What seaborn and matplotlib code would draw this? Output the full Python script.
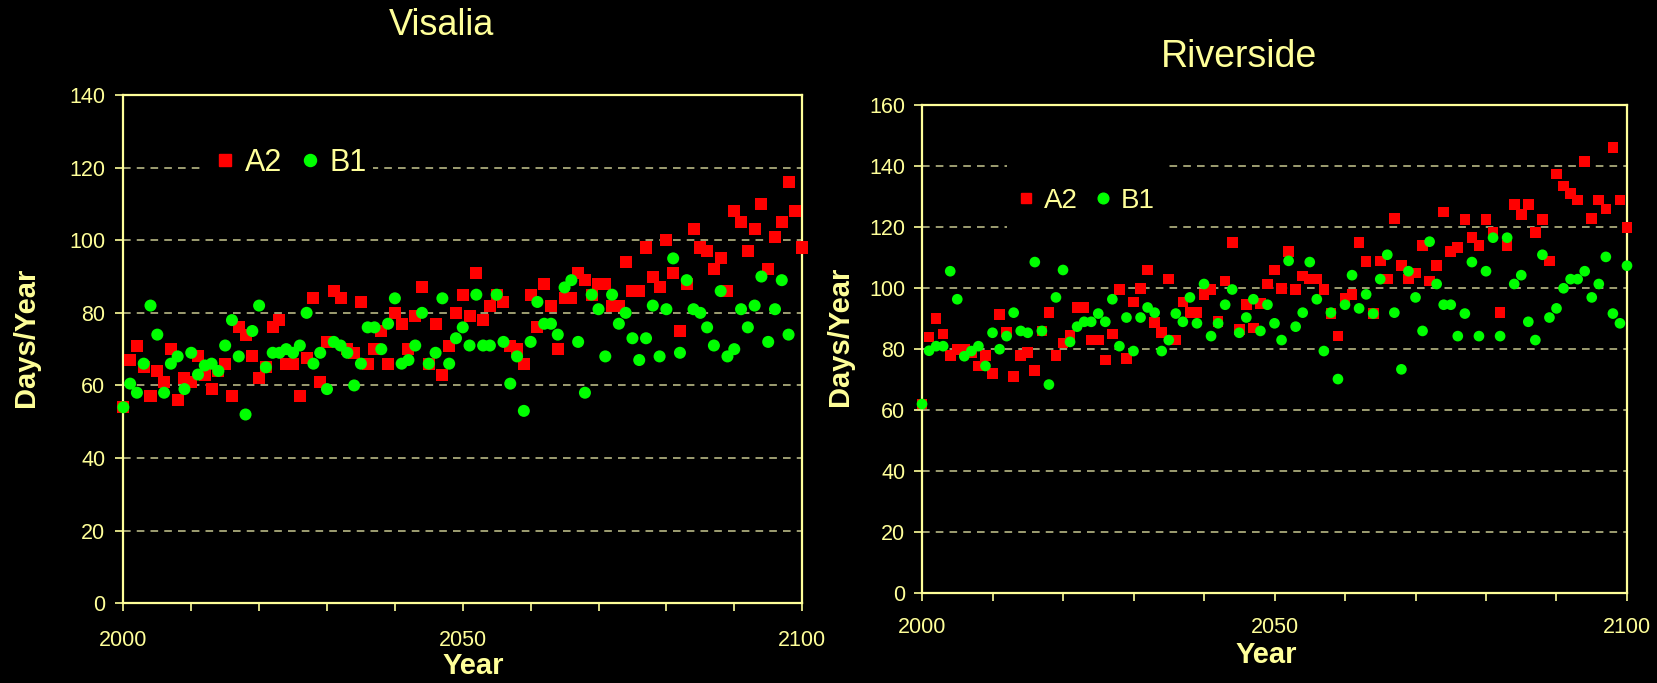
import pandas as pd
import seaborn as sns
import matplotlib.pyplot as plt
from matplotlib.lines import Line2D
from matplotlib.patches import Rectangle

# ---- data ----
years = list(range(2000, 2101))

visalia_a2 = [54, 67, 71, 65, 57, 64, 61, 70, 56, 62,
              61, 68, 63, 59, 64, 66, 57, 76, 74, 68,
              62, 65, 76, 78, 66, 66, 57, 67.5, 84, 61,
              72, 86, 84, 70, 69, 83, 66, 70, 75, 66,
              80, 77, 70, 79, 87, 66, 77, 63, 71, 80,
              85, 79, 91, 78, 82, 85, 83, 71, 70, 66,
              85, 76, 88, 82, 70, 84, 84, 91, 89, 85,
              88, 88, 82, 82, 94, 86, 86, 98, 90, 87,
              100, 91, 75, 88, 103, 98, 97, 92, 95, 86,
              108, 105, 97, 103, 110, 92, 101, 105, 116, 108,
              98]
# B1 series for Visalia stops at 2098
visalia_b1 = [54, 60.5, 58, 66, 82, 74, 58, 66, 68, 59,
              69, 63, 65.5, 66, 64, 71, 78, 68, 52, 75,
              82, 65, 69, 69, 70, 69, 71, 80, 66, 69,
              59, 72, 71, 69, 60, 66, 76, 76, 70, 77,
              84, 66, 67, 71, 80, 66, 69, 84, 66, 73,
              76, 71, 85, 71, 71, 85, 72, 60.5, 68, 53,
              72, 83, 77, 77, 74, 87, 89, 72, 58, 85,
              81, 68, 85, 77, 80, 73, 67, 73, 82, 68,
              81, 95, 69, 89, 81, 80, 76, 71, 86, 68,
              70, 81, 76, 82, 90, 72, 81, 89, 74]

riverside_a2 = [62, 84, 90, 85, 78, 80, 80, 79, 74.5, 78,
                72, 91.5, 85.7, 71, 78, 79, 73, 86, 92, 78,
                82, 84.5, 93.7, 93.7, 83, 83, 76.5, 85, 99.6, 77,
                95.5, 100, 106, 88.7, 85.4, 103, 83, 95.5, 92, 92,
                98, 99.6, 89, 102.4, 115, 86.5, 94.7, 87, 95, 101.4,
                106, 100, 112, 99.6, 104, 103, 103, 99.6, 91.7, 84.3,
                96.7, 98, 115, 108.7, 91.7, 109, 103, 123, 107.4, 103,
                105, 114, 102.4, 107.4, 125, 112, 113.4, 122.6, 116.6, 114,
                122.6, 118.3, 92, 114, 127.5, 124.3, 127.5, 118.3, 122.6, 109,
                137.5, 133.6, 131, 129, 141.5, 123, 129, 126, 146.3, 129,
                120]
riverside_b1 = [62, 79.5, 81, 81, 105.6, 96.4, 77.7, 79.4, 81, 74.5,
                85.4, 80, 84.3, 92, 86, 85.4, 108.6, 86, 68.4, 97,
                106, 82.4, 87.4, 89, 89, 91.7, 89, 96.4, 81, 90.4,
                79.4, 90.4, 93.7, 92, 79.4, 83, 91.7, 89, 97, 88.5,
                101.4, 84.3, 88.5, 94.6, 99.6, 85.4, 90.4, 96.4, 86, 94.6,
                88.5, 83, 109, 87.4, 92, 108.6, 96.4, 79.4, 92, 70.2,
                94.6, 104.3, 93.4, 98, 91.7, 103, 111, 92, 73.4, 105.6,
                97, 86, 115.3, 101.4, 94.6, 94.6, 84.3, 91.7, 108.6, 84.3,
                105.6, 116.6, 84.3, 116.6, 101.4, 104.3, 89, 83, 111, 90.4,
                93.4, 100, 103, 103, 105.6, 97, 101.4, 110.3, 91.7, 88.5,
                107.4]

YELLOW = '#FFFF99'
GRID = '#c8c890'
RED = '#FF0000'
GREEN = '#00FF00'

sns.set_theme(style='dark')
plt.rcParams['font.family'] = ['Liberation Sans', 'DejaVu Sans']
plt.rcParams['axes.facecolor'] = 'black'
plt.rcParams['figure.facecolor'] = 'black'


def make_df(a2, b1):
    d1 = pd.DataFrame({'Year': years[:len(a2)], 'Days': a2, 'Scenario': 'A2'})
    d2 = pd.DataFrame({'Year': years[:len(b1)], 'Days': b1, 'Scenario': 'B1'})
    return pd.concat([d1, d2], ignore_index=True)


def draw_panel(ax, df, ymax, msize, xpad, ypad, xlab_pos, ylab_pos,
               leg_pos, leg_fs, mask):
    # black box behind the legend hides the gridlines
    ax.add_patch(Rectangle((mask[0], mask[1]), mask[2], mask[3],
                           transform=ax.transAxes, facecolor='black',
                           edgecolor='none', zorder=1))
    sns.scatterplot(data=df, x='Year', y='Days', hue='Scenario', style='Scenario',
                    palette={'A2': RED, 'B1': GREEN},
                    markers={'A2': 's', 'B1': 'o'},
                    s=msize, linewidth=0, legend=False, ax=ax,
                    clip_on=False, zorder=3)
    ax.set_xlim(2000, 2100)
    ax.set_ylim(0, ymax)
    ax.set_xticks([2000, 2050, 2100])
    ax.set_xticks(range(2000, 2101, 10), minor=True)
    ax.set_yticks(range(0, ymax + 1, 20))
    ax.tick_params(axis='x', which='both', direction='out', length=6, width=1.2,
                   color=YELLOW, labelcolor=YELLOW, labelsize=15.5, pad=xpad,
                   bottom=True)
    ax.tick_params(axis='y', direction='out', length=6, width=1.2,
                   color=YELLOW, labelcolor=YELLOW, labelsize=15.5, pad=ypad,
                   left=True)
    ax.grid(False)
    ax.yaxis.grid(True, color=GRID, linestyle=(0, (5, 4)), linewidth=1.1, zorder=0)
    ax.set_axisbelow(True)
    for sp in ax.spines.values():
        sp.set_color(YELLOW)
        sp.set_linewidth(1.6)
        sp.set_visible(True)

    ax.set_xlabel('Year', fontsize=21, fontweight='bold', color=YELLOW, va='center')
    ax.xaxis.set_label_coords(*xlab_pos)
    ax.set_ylabel('Days/Year', fontsize=21, fontweight='bold', color=YELLOW, va='center')
    ax.yaxis.set_label_coords(*ylab_pos)

    handles = [Line2D([], [], marker='s', color=RED, linestyle='none', markersize=msize ** 0.5),
               Line2D([], [], marker='o', color=GREEN, linestyle='none', markersize=msize ** 0.5)]
    leg = ax.legend(handles, ['A2', 'B1'], ncol=2, loc='center',
                    bbox_to_anchor=leg_pos, frameon=False, fontsize=leg_fs,
                    handlelength=0.6, handletextpad=0.35, columnspacing=0.6)
    for t in leg.get_texts():
        t.set_color(YELLOW)
    leg.set_zorder(5)


fig = plt.figure(figsize=(16.58, 6.83), dpi=100)
ax1 = fig.add_axes([0.0744, 0.1167, 0.4094, 0.7442])
ax2 = fig.add_axes([0.5561, 0.1318, 0.4252, 0.7138])

draw_panel(ax1, make_df(visalia_a2, visalia_b1), 140, 75, 13, 7,
           (0.515, -0.123), (-0.143, 0.524), (0.248, 0.866), 22,
           (0.119, 0.829, 0.249, 0.073))
draw_panel(ax2, make_df(riverside_a2, riverside_b1), 160, 59, 11, 6,
           (0.489, -0.128), (-0.117, 0.527), (0.2326, 0.804), 20,
           (0.1206, 0.714, 0.2284, 0.184))

fig.text(0.2666, 0.962, 'Visalia', fontsize=26, color=YELLOW, ha='center', va='center')
fig.text(0.747, 0.917, 'Riverside', fontsize=27, color=YELLOW, ha='center', va='center')

fig.savefig('out.png', dpi=100, facecolor='black')
